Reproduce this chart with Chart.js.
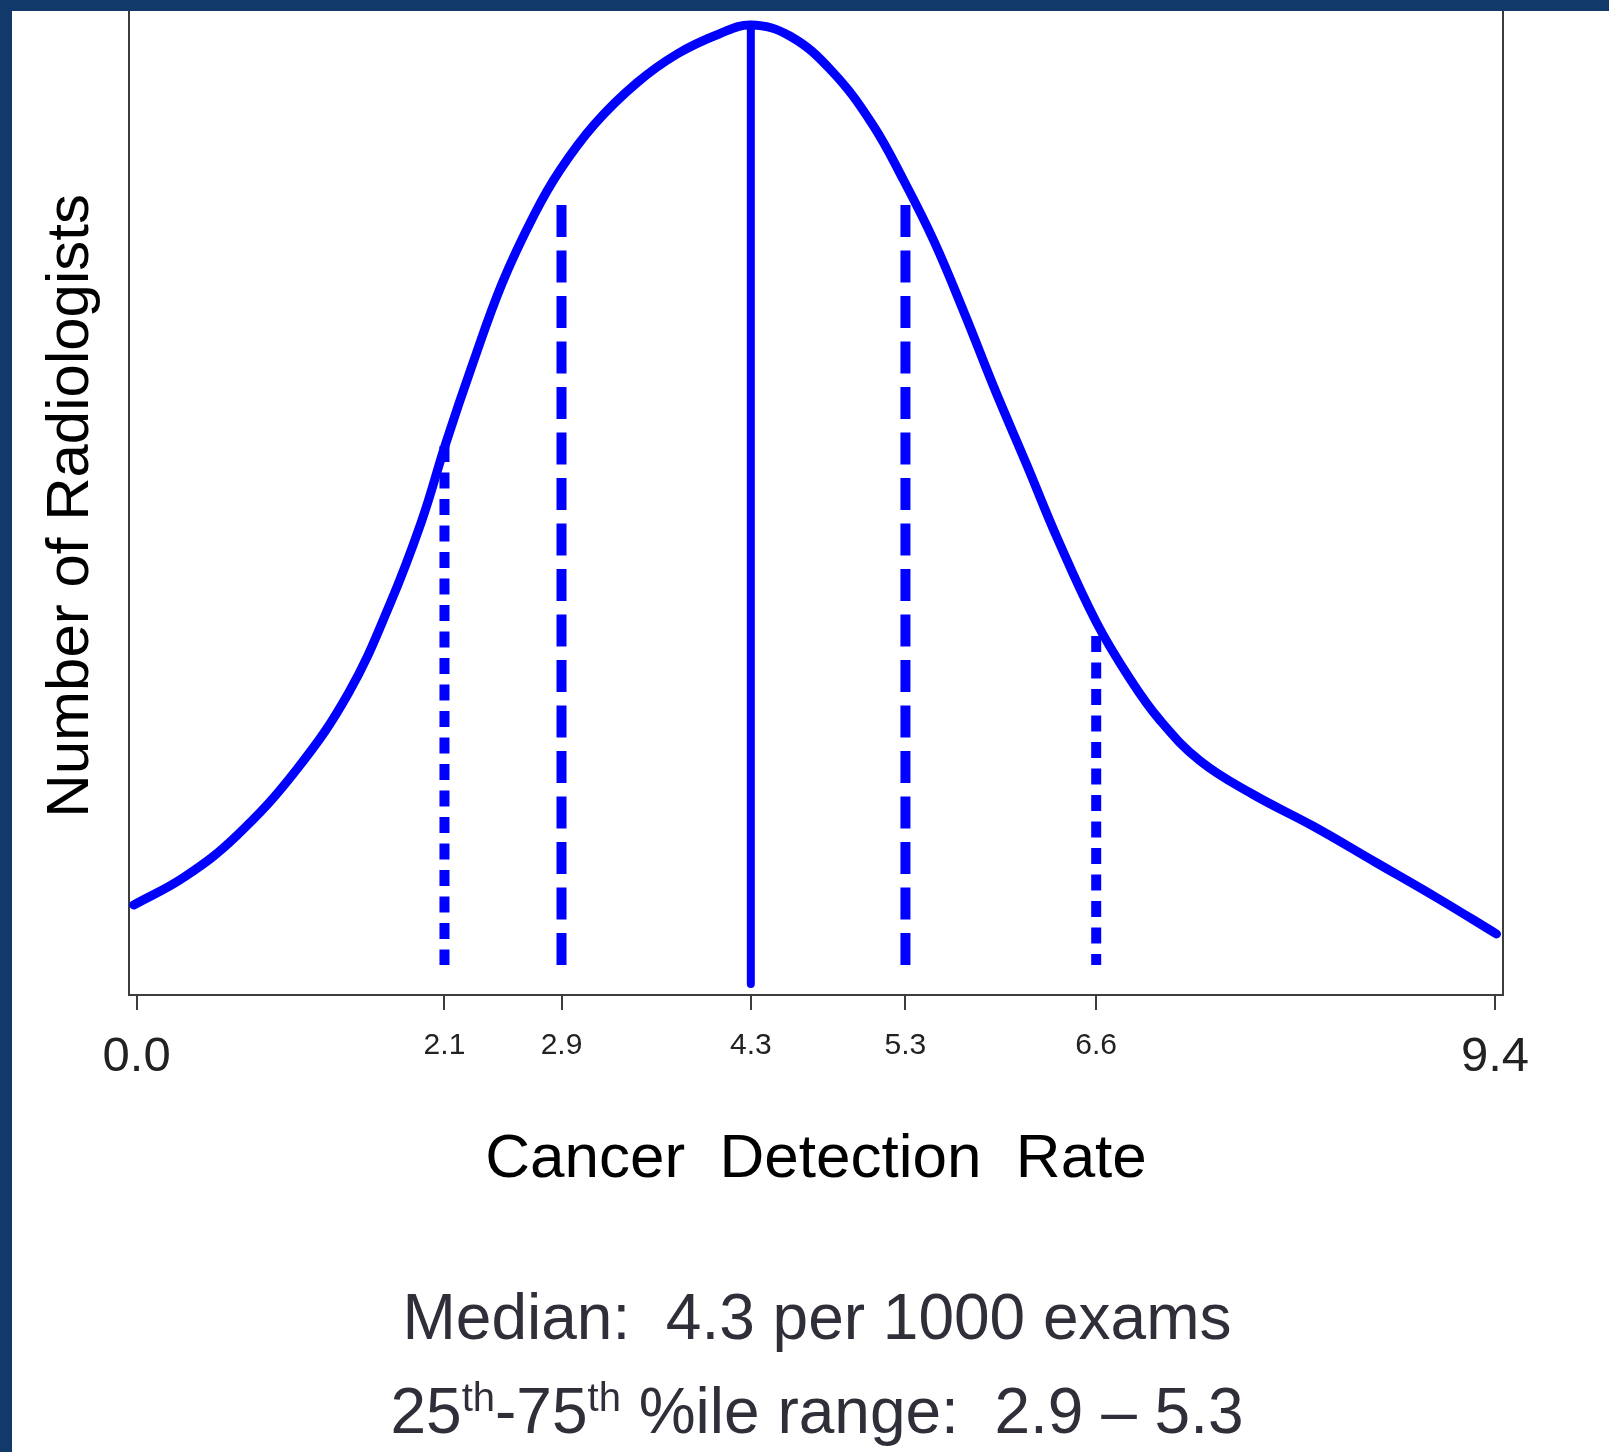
<!DOCTYPE html>
<html>
<head>
<meta charset="utf-8">
<title>Cancer Detection Rate</title>
<script src="https://cdn.jsdelivr.net/npm/chart.js@4.4.1/dist/chart.umd.min.js"></script>
<style>
  html, body { margin: 0; padding: 0; background: #fff; }
  body { width: 1609px; height: 1452px; position: relative; overflow: hidden; }
  #chart { position: absolute; left: 0; top: 0; }
  .bar { position: absolute; background: #113a6b; z-index: 2; }
  .summary {
    position: absolute; left: 217px; width: 1200px; text-align: center;
    font-family: "Liberation Sans", Arial, sans-serif; font-size: 64px;
    line-height: 94px; color: #2f2f3a; white-space: pre;
  }
  .summary .th { font-size: 40px; line-height: 0; position: relative; top: -22px; }
</style>
</head>
<body>
<div class="bar" style="left:0;top:0;width:1609px;height:11px"></div>
<div class="bar" style="left:0;top:0;width:12px;height:1452px"></div>
<canvas id="chart" width="1609" height="1452"></canvas>
<div class="summary" style="top:1270px">Median:  4.3 per 1000 exams</div>
<div class="summary" style="top:1364px">25<span class="th">th</span>-75<span class="th">th</span> %ile range:  2.9 – 5.3</div>

<script>
// density curve (x = rate per 1000 exams, y = relative count)
var rates = [-0.02, 0.33, 0.69, 1.11, 1.47, 1.75, 1.97, 2.14, 2.32, 2.53, 2.75, 2.93,
  3.17, 3.46, 3.74, 4.03, 4.25, 4.52, 4.81, 5.09, 5.31, 5.52, 5.73, 5.94, 6.16,
  6.37, 6.64, 6.87, 7.08, 7.36, 7.72, 8.14, 8.57, 9.0, 9.41];
var radiologists = [9.0, 11.8, 15.9, 22.6, 30.3, 39.0, 47.3, 55.2, 62.9, 71.2, 78.0, 82.5,
  87.1, 91.2, 94.1, 96.1, 97.0, 95.9, 92.4, 87.1, 81.4, 75.3, 68.1, 60.5, 53.0,
  45.7, 37.3, 31.7, 27.5, 23.4, 20.1, 16.9, 13.3, 9.7, 6.1];

// percentile markers (10th, 25th, median, 75th, 90th)
var percentileValues = [2.13, 2.94, 4.25, 5.32, 6.64];
var guideTops = [54.9, 79.0, 96.9, 79.0, 35.9];
var guideBottoms = [3.0, 3.0, 1.1, 3.0, 3.0];

// x axis ticks
var tickValues = [0, 2.13, 2.94, 4.25, 5.32, 6.64, 9.4];
var tickLabels = ['0.0', '2.1', '2.9', '4.3', '5.3', '6.6', '9.4'];

var BLUE = '#0000ff';
var AXIS = '#3c3c3c';
var SANS = '"Liberation Sans", Arial, sans-serif';
var NARROW = '"Liberation Sans Narrow", "Liberation Sans", Arial, sans-serif';

// short dashes for the outer percentiles, long ones for the quartiles, solid median
var guideDash = [[16, 10.5], [32, 13.5], [], [32, 13.5], [16, 10.5]];

var datasets = [{
  data: rates.map(function(x, i) { return {x: x, y: radiologists[i]}; }),
  borderColor: BLUE,
  borderWidth: 9,
  pointRadius: 0,
  tension: 0.4,
  borderCapStyle: 'round',
  borderJoinStyle: 'round',
  fill: false
}];

percentileValues.forEach(function(p, i) {
  var solid = guideDash[i].length === 0;
  datasets.push({
    data: [{x: p, y: guideTops[i]}, {x: p, y: guideBottoms[i]}],
    borderColor: BLUE,
    borderWidth: solid ? 8 : 10,
    borderDash: guideDash[i],
    borderCapStyle: solid ? 'round' : 'butt',
    pointRadius: 0,
    tension: 0,
    fill: false
  });
});

var config = {
  type: 'line',
  data: { datasets: datasets },
  options: {
    responsive: false,
    animation: false,
    layout: { padding: { left: 0, top: 0, right: 106, bottom: 254.8 } },
    plugins: { legend: { display: false }, tooltip: { enabled: false } },
    scales: {
      x: {
        type: 'linear',
        min: -0.053,
        max: 9.455,
        afterBuildTicks: function(axis) {
          axis.ticks = tickValues.map(function(v) { return {value: v}; });
        },
        ticks: {
          autoSkip: false,
          maxRotation: 0,
          padding: 18,
          color: '#222',
          callback: function(value, index) { return tickLabels[index]; },
          font: function(ctx) {
            var big = ctx.index === 0 || ctx.index === tickValues.length - 1;
            return big ? {family: SANS, size: 49} : {family: NARROW, size: 30};
          }
        },
        grid: { display: true, drawOnChartArea: false, drawTicks: true, tickLength: 15, color: AXIS, lineWidth: 2 },
        border: { display: true, color: AXIS, width: 2 },
        title: {
          display: true,
          text: 'Cancer  Detection  Rate',
          color: '#000',
          font: { family: SANS, size: 62 },
          padding: { top: 18, bottom: 0 }
        }
      },
      y: {
        type: 'linear',
        min: 0,
        max: 99.5,
        ticks: { display: false },
        grid: { display: false, drawTicks: false },
        border: { display: true, color: AXIS, width: 2 },
        title: {
          display: true,
          // trailing space nudges the rotated title down a little, as in the original
          text: 'Number of Radiologists ',
          color: '#000',
          font: { family: SANS, size: 60 },
          padding: { top: 35, bottom: 22 }
        }
      },
      frame: {
        type: 'linear',
        position: 'right',
        ticks: { display: false },
        grid: { display: false, drawTicks: false },
        border: { display: true, color: AXIS, width: 2 }
      }
    }
  }
};

window.onload = function() {
  var ctx = document.getElementById('chart').getContext('2d');
  window.detectionChart = new Chart(ctx, config);
};
</script>
</body>
</html>
